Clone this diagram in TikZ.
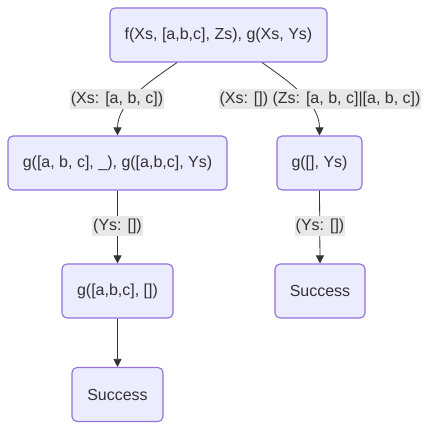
\documentclass[tikz,border=0pt]{standalone}
\usepackage{fontspec}
\setmainfont{Liberation Sans}
\usetikzlibrary{arrows.meta,calc}
\definecolor{boxfill}{HTML}{ECECFF}
\definecolor{boxline}{HTML}{9370DB}
\definecolor{inkgray}{HTML}{333333}
\definecolor{labelbg}{HTML}{E8E8E8}
\tikzset{
    goalbox/.style={draw=boxline,fill=boxfill,line width=1.1pt,rounded corners=5pt,
        text=inkgray,minimum height=54pt,font=\fontsize{16}{19}\selectfont},
    edgelabel/.style={fill=labelbg,text=inkgray,inner xsep=1pt,inner ysep=3pt,
        font=\fontsize{16}{19}\selectfont},
    edge/.style={draw=inkgray,line width=0.8pt,-{Triangle[length=8pt,width=8pt]}}
}

\begin{document}
\begin{tikzpicture}[x=1pt,y=1pt]
    \useasboundingbox (0,0) rectangle (427,430);
    % goals, top row to bottom row
    \node[goalbox,minimum width=217pt] (f) at (218.5,395) {f(Xs, [a,b,c], Zs), g(Xs, Ys)};
    \node[goalbox,minimum width=219pt] (g1) at (117.5,267) {g([a, b, c], \_), g([a,b,c], Ys)};
    \node[goalbox,minimum width=85pt] (g2) at (319.5,267) {g([], Ys)};
    \node[goalbox,minimum width=111pt] (g3) at (117.5,139) {g([a,b,c], [])};
    \node[goalbox,minimum width=90pt] (s2) at (320,139) {Success};
    \node[goalbox,minimum width=91pt] (s1) at (117.5,35.5) {Success};
    % branches
    \draw[edge] ([xshift=-41.5pt]f.south) to[out=215,in=90,looseness=0.9] (g1.north);
    \draw[edge] ([xshift=43.5pt]f.south) to[out=-35,in=90,looseness=0.9] (g2.north);
    \draw[edge] (g1.south) -- (g3.north);
    \draw[edge] (g2.south) -- (s2.north);
    \draw[edge] (g3.south) -- (s1.north);
    % bindings on the branches
    \node[edgelabel] (b1) at (117,331) {(Xs: [a, b, c])};
    \node[edgelabel] (b2) at (320,331) {(Xs: []) (Zs: [a, b, c]|[a, b, c])};
    \node[edgelabel] (b3) at (117.5,204) {(Ys: [])};
    \node[edgelabel] (b4) at (320,204) {(Ys: [])};
\end{tikzpicture}
\end{document}
